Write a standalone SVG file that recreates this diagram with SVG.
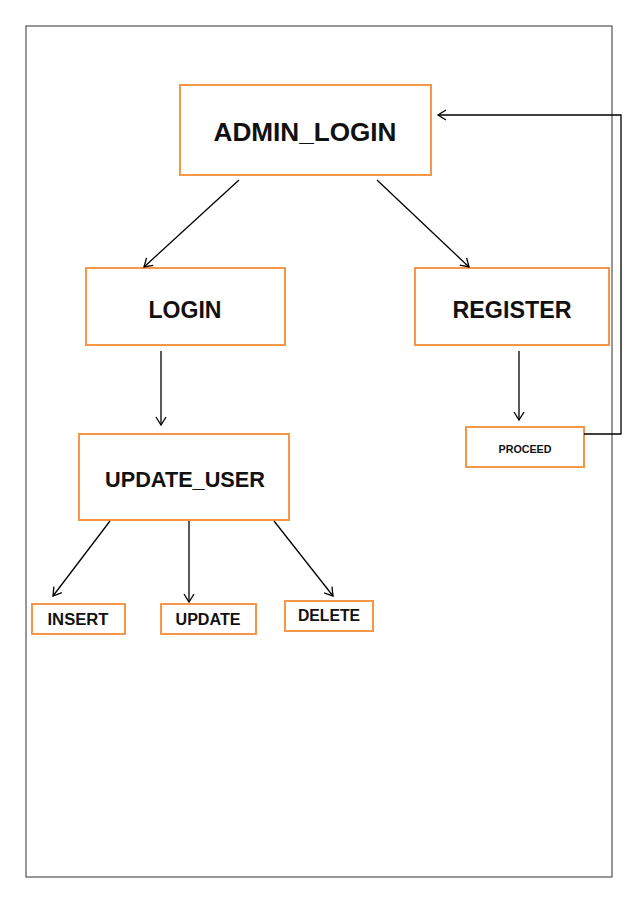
<svg xmlns="http://www.w3.org/2000/svg" width="638" height="902" viewBox="0 0 638 902">
<defs>
<marker id="ah" markerWidth="12" markerHeight="12" refX="10" refY="6" orient="auto" markerUnits="userSpaceOnUse">
<path d="M2,1 L10,6 L2,11" fill="none" stroke="#000" stroke-width="1.3"/>
</marker>
<style>
.box{fill:#fff;stroke:#F79646;stroke-width:2}
.t{font-family:"Liberation Sans",Arial,sans-serif;font-weight:bold;fill:#111;text-anchor:middle}
.c{stroke:#000;stroke-width:1.3;fill:none}
</style>
</defs>
<rect width="638" height="902" fill="#fff"/>
<rect x="26" y="26" width="586" height="851" fill="none" stroke="#333" stroke-width="1"/>
<g id="admin_login"><rect class="box" x="180" y="85" width="251" height="90"/><text class="t" x="305" y="141" font-size="25" textLength="183" lengthAdjust="spacingAndGlyphs">ADMIN_LOGIN</text></g>
<g id="login"><rect class="box" x="86" y="268" width="199" height="77"/><text class="t" x="185" y="318" font-size="24" textLength="73" lengthAdjust="spacingAndGlyphs">LOGIN</text></g>
<g id="register"><rect class="box" x="415" y="268" width="194" height="77"/><text class="t" x="512" y="318" font-size="24" textLength="119" lengthAdjust="spacingAndGlyphs">REGISTER</text></g>
<g id="proceed"><rect class="box" x="466" y="427" width="118" height="40"/><text class="t" x="525" y="453" font-size="11" textLength="53" lengthAdjust="spacingAndGlyphs">PROCEED</text></g>
<g id="update_user"><rect class="box" x="79" y="434" width="210" height="86"/><text class="t" x="185" y="487" font-size="22" textLength="160" lengthAdjust="spacingAndGlyphs">UPDATE_USER</text></g>
<g id="insert"><rect class="box" x="32" y="604" width="93" height="30"/><text class="t" x="78" y="625" font-size="16" textLength="61" lengthAdjust="spacingAndGlyphs">INSERT</text></g>
<g id="update"><rect class="box" x="161" y="604" width="95" height="30"/><text class="t" x="208" y="625" font-size="16" textLength="65" lengthAdjust="spacingAndGlyphs">UPDATE</text></g>
<g id="delete"><rect class="box" x="285" y="601" width="88" height="30"/><text class="t" x="329" y="621" font-size="16" textLength="62" lengthAdjust="spacingAndGlyphs">DELETE</text></g>
<g id="connectors">
<line class="c" x1="239" y1="180" x2="144" y2="267" marker-end="url(#ah)"/>
<line class="c" x1="377" y1="180" x2="469" y2="267" marker-end="url(#ah)"/>
<line class="c" x1="161" y1="351" x2="161" y2="425" marker-end="url(#ah)"/>
<line class="c" x1="519" y1="351" x2="519" y2="420" marker-end="url(#ah)"/>
<polyline class="c" points="584,434 621,434 621,115 438,115" marker-end="url(#ah)"/>
<line class="c" x1="110" y1="521" x2="53" y2="596" marker-end="url(#ah)"/>
<line class="c" x1="189" y1="521" x2="189" y2="602" marker-end="url(#ah)"/>
<line class="c" x1="274" y1="521" x2="333" y2="596" marker-end="url(#ah)"/>
</g>
</svg>
